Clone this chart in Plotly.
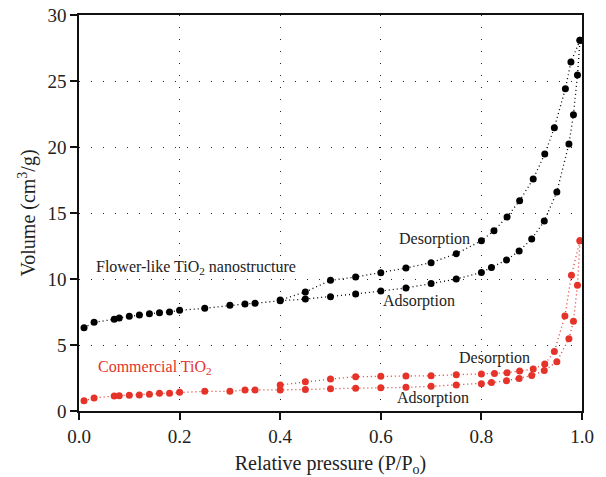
import plotly.graph_objects as go

# Flower-like TiO2 (black)
flower_ads_x = [0.01, 0.03, 0.07, 0.08, 0.10, 0.12, 0.14, 0.16, 0.18, 0.20, 0.25, 0.30, 0.33, 0.35,
                0.40, 0.45, 0.50, 0.55, 0.60, 0.65, 0.70, 0.75, 0.80, 0.82, 0.85, 0.875, 0.90, 0.925,
                0.95, 0.974, 0.983, 0.991, 0.996]
flower_ads_y = [6.31, 6.72, 6.95, 7.05, 7.17, 7.27, 7.37, 7.45, 7.50, 7.63, 7.78, 8.01, 8.11, 8.16,
                8.35, 8.48, 8.66, 8.87, 9.09, 9.32, 9.65, 10.0, 10.5, 10.88, 11.44, 12.12, 13.03, 14.39,
                16.59, 20.23, 22.45, 25.45, 28.08]
flower_des_x = [0.996, 0.978, 0.967, 0.945, 0.926, 0.903, 0.876, 0.851, 0.825, 0.80, 0.75, 0.70,
                0.65, 0.60, 0.55, 0.50, 0.45, 0.40]
flower_des_y = [28.08, 26.44, 24.42, 21.46, 19.47, 17.58, 15.93, 14.70, 13.66, 12.90, 11.92, 11.24,
                10.83, 10.48, 10.15, 9.90, 9.02, 8.40]

# Commercial TiO2 (red)
comm_ads_x = flower_ads_x
comm_ads_y = [0.78, 0.98, 1.14, 1.16, 1.19, 1.21, 1.26, 1.34, 1.34, 1.42, 1.49, 1.49, 1.59, 1.59,
              1.59, 1.62, 1.69, 1.72, 1.77, 1.79, 1.87, 1.97, 2.07, 2.15, 2.30, 2.47, 2.68, 3.06,
              3.74, 5.48, 6.80, 9.52, 12.90]
comm_des_x = [0.996, 0.979, 0.966, 0.945, 0.926, 0.903, 0.876, 0.851, 0.826, 0.80, 0.75, 0.70,
              0.65, 0.60, 0.55, 0.50, 0.45, 0.40]
comm_des_y = [12.90, 10.28, 7.20, 4.50, 3.56, 3.18, 3.03, 2.90, 2.85, 2.80, 2.75, 2.67,
              2.65, 2.63, 2.60, 2.42, 2.22, 1.97]

x_ticks = [0.0, 0.2, 0.4, 0.6, 0.8, 1.0]
x_ticklabels = ["0.0", "0.2", "0.4", "0.6", "0.8", "1.0"]
y_ticks = [0, 5, 10, 15, 20, 25, 30]

BLACK = "#000000"
RED = "#e5332a"
FONT = "Liberation Serif"

fig = go.Figure()

def add_series(x, y, color):
    fig.add_trace(go.Scatter(
        x=x, y=y, mode="lines+markers",
        line=dict(color=color, width=1.3, dash="1px,3px"),
        marker=dict(color=color, size=7, symbol="circle"),
        showlegend=False, hoverinfo="skip"))

add_series(flower_ads_x, flower_ads_y, BLACK)
add_series(flower_des_x, flower_des_y, BLACK)
add_series(comm_ads_x, comm_ads_y, RED)
add_series(comm_des_x, comm_des_y, RED)

annotations = [
    dict(x=0.030, y=10.9, text="Flower-like TiO<sub>2</sub> nanostructure", color="#222222", xanchor="left"),
    dict(x=0.034, y=3.3, text="Commercial TiO<sub>2</sub>", color=RED, xanchor="left"),
    dict(x=0.706, y=13.0, text="Desorption", color="#222222", xanchor="center"),
    dict(x=0.676, y=8.33, text="Adsorption", color="#222222", xanchor="center"),
    dict(x=0.827, y=4.0, text="Desorption", color="#222222", xanchor="center"),
    dict(x=0.704, y=0.98, text="Adsorption", color="#222222", xanchor="center"),
]
for a in annotations:
    fig.add_annotation(x=a["x"], y=a["y"], text=a["text"], showarrow=False,
                       xanchor=a["xanchor"], yanchor="middle",
                       font=dict(family=FONT, size=16, color=a["color"]))

axis_common = dict(
    showline=True, linecolor="#111111", linewidth=1.5, mirror=True,
    ticks="outside", ticklen=7, tickwidth=1.5, tickcolor="#111111",
    showgrid=True, gridcolor="#222222", gridwidth=1, griddash="1px,11px",
    zeroline=False, automargin=False,
    tickfont=dict(family=FONT, size=19, color="#222222"),
)

fig.update_xaxes(range=[0, 1.0], tickvals=x_ticks, ticktext=x_ticklabels,
                 title=dict(text="Relative pressure (P/P<sub>o</sub>)",
                            font=dict(family=FONT, size=20, color="#222222"), standoff=14),
                 **axis_common)
fig.update_yaxes(range=[0, 30], tickvals=y_ticks,
                 title=dict(text="Volume (cm<sup>3</sup>/g)",
                            font=dict(family=FONT, size=20, color="#222222"), standoff=6),
                 **axis_common)

fig.update_layout(
    width=606, height=477,
    margin=dict(l=79, r=24, t=15, b=66),
    plot_bgcolor="white", paper_bgcolor="white",
    font=dict(family=FONT),
)

fig.write_html("out.html")
